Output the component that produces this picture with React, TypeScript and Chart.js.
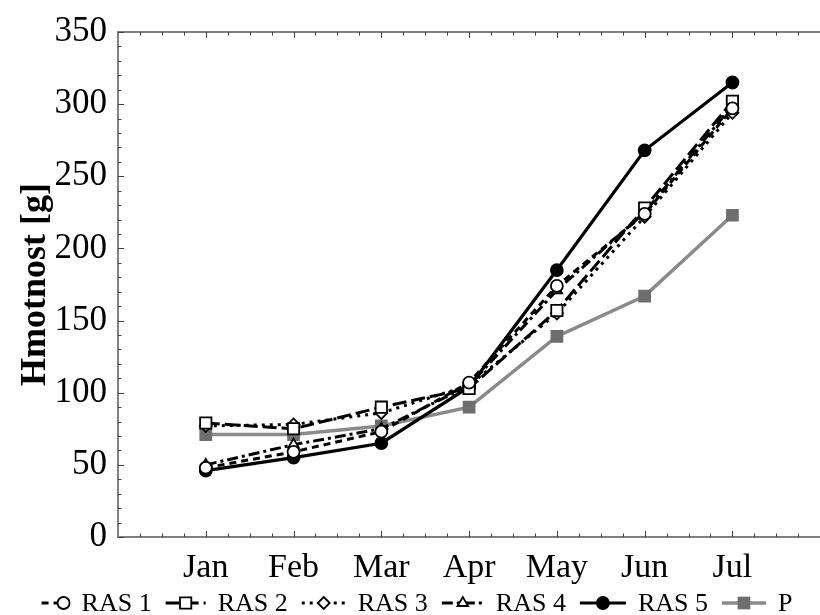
import React, { useEffect, useRef } from "react";
import { Chart, registerables } from "chart.js";

Chart.register(...registerables);

const months = ["Jan", "Feb", "Mar", "Apr", "May", "Jun", "Jul"];
const ras1 = [48, 59, 73, 107, 174, 224, 297];
const ras2 = [79, 75, 90, 103, 157, 228, 302];
const ras3 = [77, 78, 86, 105, 155, 222, 294];
const ras4 = [50, 64, 75, 105, 171, 225, 299];
const ras5 = [46, 55, 65, 104, 185, 268, 315];
const pVals = [71, 71, 77, 90, 139, 167, 223];
const seriesNames = ["RAS 1", "RAS 2", "RAS 3", "RAS 4", "RAS 5", "P"];
const yTickValues = [0, 50, 100, 150, 200, 250, 300, 350];

const SERIF = "'Liberation Serif', 'DejaVu Serif', serif";

const toXY = (vals: number[]) => vals.map((v, i) => ({ x: i + 1, y: v }));

function drawMarker(ctx: CanvasRenderingContext2D, style: string, x: number, y: number, r: number, fill: string, stroke: string, lw: number) {
  ctx.save();
  ctx.setLineDash([]);
  ctx.fillStyle = fill;
  ctx.strokeStyle = stroke;
  ctx.lineWidth = lw;
  ctx.beginPath();
  if (style === "circle") {
    ctx.arc(x, y, r, 0, Math.PI * 2);
  } else if (style === "rect") {
    const s = r * Math.SQRT1_2;
    ctx.rect(x - s, y - s, 2 * s, 2 * s);
  } else if (style === "rectRot") {
    ctx.moveTo(x, y - r);
    ctx.lineTo(x + r, y);
    ctx.lineTo(x, y + r);
    ctx.lineTo(x - r, y);
    ctx.closePath();
  } else if (style === "triangle") {
    ctx.moveTo(x, y - r);
    ctx.lineTo(x + r * 0.87, y + r * 0.5);
    ctx.lineTo(x - r * 0.87, y + r * 0.5);
    ctx.closePath();
  }
  ctx.fill();
  if (lw > 0) ctx.stroke();
  ctx.restore();
}

const frameAndTicks = {
  id: "frameAndTicks",
  afterDraw(chart: any) {
    const { ctx, chartArea: a, scales } = chart;
    const x = scales.x;
    const y = scales.y;
    ctx.save();
    ctx.strokeStyle = "#808080";
    ctx.lineWidth = 2;
    ctx.beginPath();
    ctx.moveTo(a.left - 1, a.top);
    ctx.lineTo(a.right + 2, a.top);
    ctx.stroke();
    ctx.strokeStyle = "#404040";
    ctx.lineWidth = 1;
    for (let k = 1; k <= 32; k++) {
      const v = k * 0.25;
      const px = Math.round(x.getPixelForValue(v)) + 0.5;
      const len = k % 4 === 0 ? 6 : 3.5;
      ctx.beginPath();
      ctx.moveTo(px, a.bottom);
      ctx.lineTo(px, a.bottom - len);
      ctx.moveTo(px, a.top);
      ctx.lineTo(px, a.top + len);
      ctx.stroke();
    }
    for (let v = 0; v <= 350; v += 10) {
      const py = Math.round(y.getPixelForValue(v)) + 0.5;
      const len = v % 50 === 0 ? 6 : 3.5;
      ctx.beginPath();
      ctx.moveTo(a.left, py);
      ctx.lineTo(a.left + len, py);
      ctx.stroke();
    }
    ctx.restore();
  },
};

const bottomLegend = {
  id: "bottomLegend",
  afterDraw(chart: any) {
    const { ctx } = chart;
    const sets = chart.data.datasets;
    const sampleW = [28, 40, 44, 42, 46, 44];
    const gap = 12;
    const itemGap = 14;
    ctx.save();
    ctx.font = `26px ${SERIF}`;
    ctx.textBaseline = "middle";
    const widths = sets.map((d: any, i: number) => sampleW[i] + gap + ctx.measureText(d.label).width);
    const total = widths.reduce((s: number, w: number) => s + w, 0) + itemGap * (sets.length - 1);
    let cx = 417 - total / 2;
    const cy = 603;
    sets.forEach((d: any, i: number) => {
      const sw = sampleW[i];
      ctx.save();
      ctx.strokeStyle = d.borderColor;
      ctx.lineWidth = d.borderWidth;
      ctx.setLineDash(d.borderDash || []);
      ctx.beginPath();
      ctx.moveTo(cx, cy);
      ctx.lineTo(cx + sw, cy);
      ctx.stroke();
      ctx.restore();
      const mx = i === 0 ? cx + sw - d.pointRadius : cx + sw / 2;
      drawMarker(ctx, d.pointStyle, mx, cy, d.pointRadius, d.pointBackgroundColor, d.pointBorderColor, d.pointBorderWidth);
      ctx.fillStyle = "#000";
      ctx.fillText(d.label, cx + sw + gap, cy + 1);
      cx += widths[i] + itemGap;
    });
    ctx.restore();
  },
};

export default function App() {
  const ref = useRef<HTMLCanvasElement | null>(null);

  useEffect(() => {
    if (!ref.current) return;
    const base = {
      fill: false,
      tension: 0,
      borderColor: "#000",
      pointBorderColor: "#000",
      pointBorderWidth: 1.8,
    };
    const chart = new Chart(ref.current, {
      type: "line",
      data: {
        datasets: [
          { ...base, label: seriesNames[0], data: toXY(ras1), borderWidth: 3, borderDash: [7, 5], pointStyle: "circle", pointRadius: 6, pointBackgroundColor: "#fff" },
          { ...base, label: seriesNames[1], data: toXY(ras2), borderWidth: 3, borderDash: [14, 5], pointStyle: "rect", pointRadius: 8, pointBackgroundColor: "#fff" },
          { ...base, label: seriesNames[2], data: toXY(ras3), borderWidth: 3, borderDash: [3, 5], pointStyle: "rectRot", pointRadius: 6, pointBackgroundColor: "#fff" },
          { ...base, label: seriesNames[3], data: toXY(ras4), borderWidth: 3, borderDash: [11, 4, 3, 4], pointStyle: "triangle", pointRadius: 6, pointBackgroundColor: "#fff" },
          { ...base, label: seriesNames[4], data: toXY(ras5), borderWidth: 3.2, borderDash: [], pointStyle: "circle", pointRadius: 6, pointBackgroundColor: "#000" },
          { ...base, label: seriesNames[5], data: toXY(pVals), borderColor: "#8a8a8a", borderWidth: 3.5, borderDash: [], pointStyle: "rect", pointRadius: 9, pointBackgroundColor: "#6e6e6e", pointBorderColor: "#6e6e6e", pointBorderWidth: 0 },
        ],
      },
      options: {
        animation: false,
        responsive: false,
        devicePixelRatio: 1,
        layout: { padding: { top: 27, right: 0, bottom: 0, left: 0 } },
        plugins: { legend: { display: false }, tooltip: { enabled: false } },
        scales: {
          x: {
            type: "linear",
            min: 0,
            max: 8,
            afterBuildTicks: (s: any) => {
              s.ticks = months.map((_, i) => ({ value: i + 1 }));
            },
            afterFit: (s: any) => {
              s.height = 78;
            },
            grid: { display: false, drawTicks: false },
            border: { display: true, color: "#808080", width: 2 },
            ticks: {
              autoSkip: false,
              maxRotation: 0,
              padding: 11,
              color: "#000",
              font: { family: SERIF, size: 34 },
              callback: (v: any) => months[Number(v) - 1] ?? "",
            },
          },
          y: {
            min: 0,
            max: 350,
            afterBuildTicks: (s: any) => {
              s.ticks = yTickValues.map((v) => ({ value: v }));
            },
            afterFit: (s: any) => {
              s.width = 118;
            },
            grid: { display: false, drawTicks: false },
            border: { display: true, color: "#808080", width: 2 },
            ticks: {
              padding: 11,
              color: "#000",
              font: { family: SERIF, size: 35 },
            },
            title: {
              display: true,
              text: "Hmotnost [g]",
              color: "#000",
              font: { family: SERIF, size: 36, weight: "bold", lineHeight: 1.2 },
              padding: { top: 14, bottom: 0 },
            },
          },
        },
      },
      plugins: [frameAndTicks, bottomLegend],
    });
    return () => chart.destroy();
  }, []);

  return (
    <div style={{ position: "fixed", left: 0, top: 0, width: 820, height: 615, overflow: "hidden", background: "#fff" }}>
      <canvas ref={ref} width={830} height={615} style={{ display: "block", width: 830, height: 615 }} />
    </div>
  );
}
